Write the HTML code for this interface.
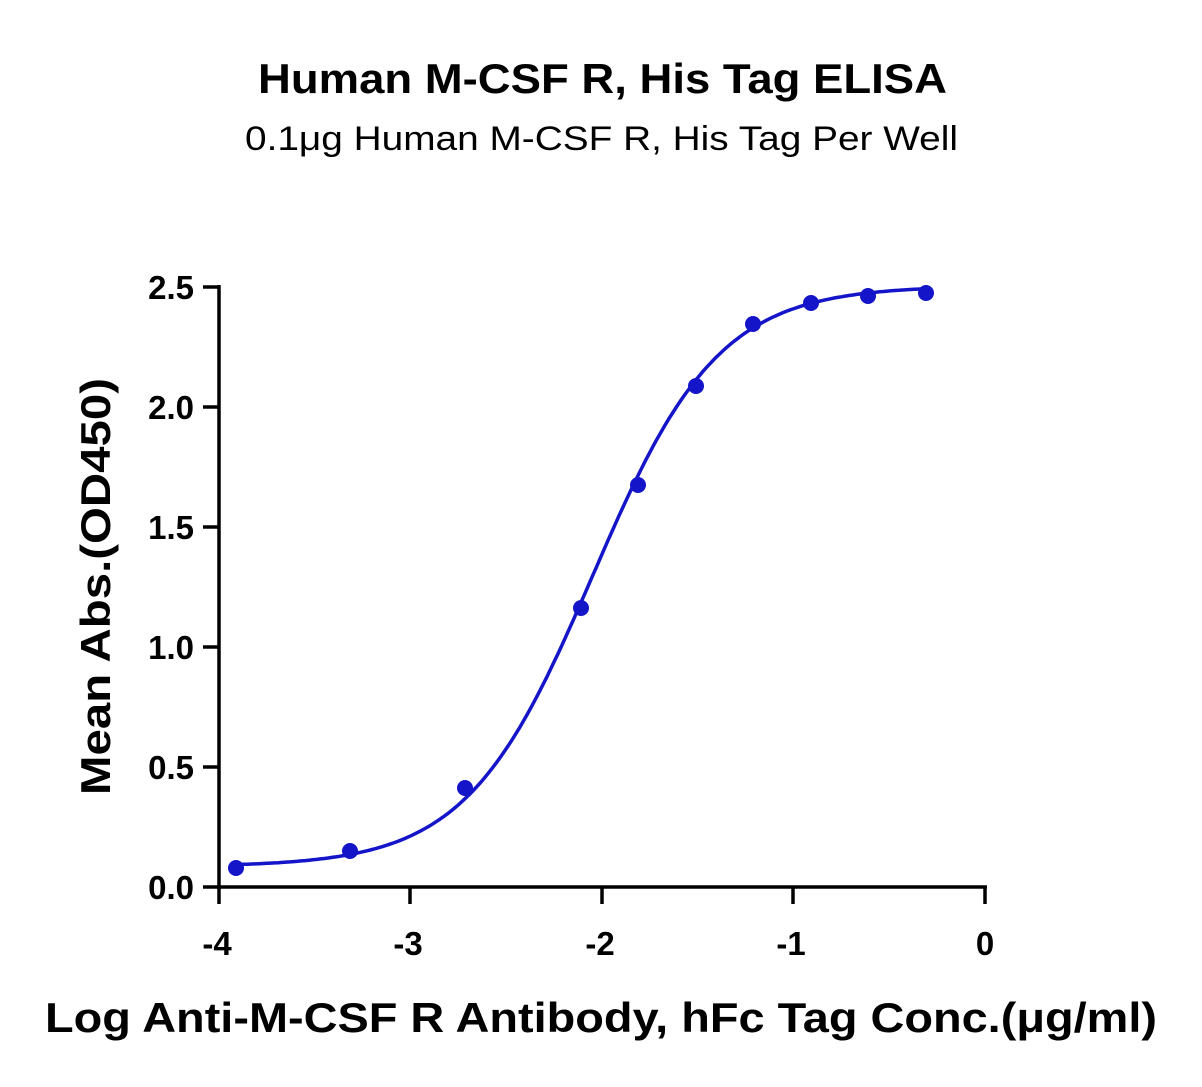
<!DOCTYPE html>
<html><head><style>
html,body{margin:0;padding:0;background:#fff;}
svg{display:block;font-family:"Liberation Sans",sans-serif;}
</style></head><body>
<svg id="s" width="1202" height="1087" viewBox="0 0 1202 1087">
<text x="258" y="93" textLength="689" lengthAdjust="spacingAndGlyphs" font-size="42" font-weight="bold">Human M-CSF R, His Tag ELISA</text>
<text x="245" y="150" textLength="713" lengthAdjust="spacingAndGlyphs" font-size="34">0.1μg Human M-CSF R, His Tag Per Well</text>
<g stroke="#000" stroke-width="3.5" fill="none">
<line x1="219" y1="285" x2="219" y2="889"/>
<line x1="217" y1="887" x2="987" y2="887"/>
<line x1="203" y1="287" x2="219" y2="287"/>
<line x1="203" y1="407" x2="219" y2="407"/>
<line x1="203" y1="527" x2="219" y2="527"/>
<line x1="203" y1="647" x2="219" y2="647"/>
<line x1="203" y1="767" x2="219" y2="767"/>
<line x1="203" y1="887" x2="219" y2="887"/>
<line x1="219" y1="887" x2="219" y2="904"/>
<line x1="410" y1="887" x2="410" y2="904"/>
<line x1="602" y1="887" x2="602" y2="904"/>
<line x1="793" y1="887" x2="793" y2="904"/>
<line x1="985" y1="887" x2="985" y2="904"/>
</g>
<g font-size="33" font-weight="bold" text-anchor="end">
<text x="194" y="299">2.5</text>
<text x="194" y="419">2.0</text>
<text x="194" y="539">1.5</text>
<text x="194" y="659">1.0</text>
<text x="194" y="779">0.5</text>
<text x="194" y="899">0.0</text>
</g>
<g font-size="33" font-weight="bold" text-anchor="middle">
<text x="217" y="955">-4</text>
<text x="408" y="955">-3</text>
<text x="600" y="955">-2</text>
<text x="791" y="955">-1</text>
<text x="985" y="955">0</text>
</g>
<text x="45" y="1032" textLength="1112" lengthAdjust="spacingAndGlyphs" font-size="42" font-weight="bold">Log Anti-M-CSF R Antibody, hFc Tag Conc.(μg/ml)</text>
<text transform="translate(110,795) rotate(-90)" textLength="417" lengthAdjust="spacingAndGlyphs" font-size="42" font-weight="bold">Mean Abs.(OD450)</text>
<path id="c" fill="none" stroke="#1414c8" stroke-width="3.5"/>
<g fill="#1414c8" id="pts"></g>
</svg>
<script>
var X=function(v){return 985+v*191.5},Y=function(v){return 887-v*240};
function f(x){var t=Math.pow(10,(x+2.05)*1.32);return 0.085+2.42*t/(1+t);}
var d="";for(var x=-3.91;x<=-0.30;x+=0.02){d+=(d?"L":"M")+X(x).toFixed(1)+","+Y(f(x)).toFixed(1);}
document.getElementById("c").setAttribute("d",d);
var p=[[236,868],[350,851],[465,788],[581,608],[638,485],[696,386],[753,324],[811,303],[868,296],[926,293]],g=document.getElementById("pts"),h="";
p.forEach(function(q){h+='<circle cx="'+q[0]+'" cy="'+q[1]+'" r="8"/>';});g.innerHTML=h;
</script>
</body></html>
